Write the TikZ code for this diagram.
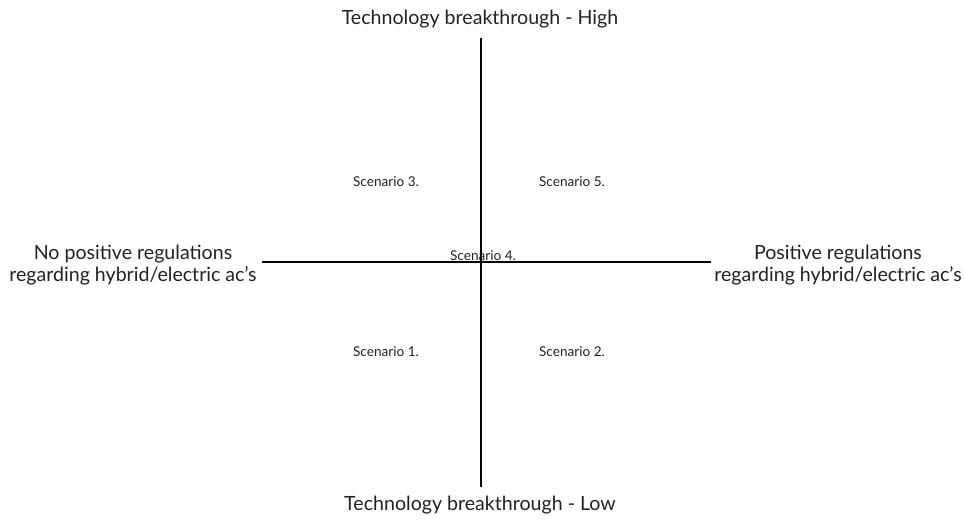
\documentclass[tikz,border=0pt]{standalone}
\usepackage{fontspec}
\setmainfont{Lato}
\usepackage{tikz}
\definecolor{labelgray}{HTML}{222222}
\tikzstyle{axislabel}=[inner sep=0, outer sep=0, text=labelgray, font=\fontsize{19.6}{22}\selectfont, align=center]
\tikzstyle{scenario}=[inner sep=0, outer sep=0, text=labelgray, font=\fontsize{13.6}{15}\selectfont]
\tikzstyle{axis}=[line width=2.4pt, black]
\tikzstyle{quadrant}=[x=1pt, y=-1pt,
                      % Fix the canvas to the reference size.
                      execute at begin picture={\useasboundingbox (0, 0) rectangle (965, 519);}]

\begin{document}
\begin{tikzpicture}[quadrant]
        \coordinate (top)    at (481, 38);
        \coordinate (bottom) at (481, 487);
        \coordinate (left)   at (262, 262);
        \coordinate (right)  at (711, 262);
        \node[axislabel] (high)  at (480, 19)  {Technology breakthrough - High};
        \node[axislabel] (low)   at (480, 505) {Technology breakthrough - Low};
        \node[axislabel] (noreg) at (133, 265) {No positive regulations\\regarding hybrid/electric ac’s};
        \node[axislabel] (reg)   at (838, 265) {Positive regulations\\regarding hybrid/electric ac’s};
        \draw[axis] (top) -- (bottom);
        \draw[axis] (left) -- (right);
        \node[scenario] (S3) at (386, 182) {Scenario 3.};
        \node[scenario] (S5) at (572, 182) {Scenario 5.};
        \node[scenario] (S4) at (483, 256) {Scenario 4.};
        \node[scenario] (S1) at (386, 352) {Scenario 1.};
        \node[scenario] (S2) at (572, 352) {Scenario 2.};
    \end{tikzpicture}
\end{document}
